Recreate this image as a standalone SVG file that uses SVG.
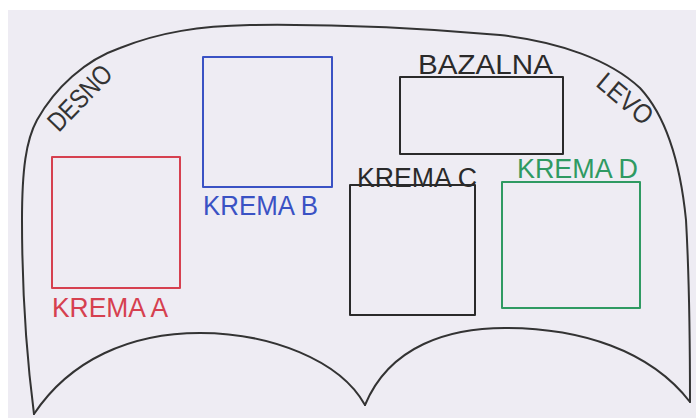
<svg xmlns="http://www.w3.org/2000/svg" width="696" height="418" viewBox="0 0 696 418">
<style>
.lbl{font-family:"Liberation Sans",Arial,sans-serif;font-size:27px;lengthAdjust:spacingAndGlyphs}
.box{fill:none;stroke-width:2;stroke-linejoin:round}
.ink{fill:none;stroke:#333;stroke-width:2;stroke-linecap:round;stroke-linejoin:round}
</style>
<rect width="696" height="418" fill="#ffffff"/>
<rect x="8" y="10" width="688" height="408" fill="#eeecf3"/>
<g id="outline">
<path class="ink" d="M34,414 C27,360 22,300 22,220 C22,170 26,140 37,120 C55,88 85,60 120,48 C160,32 200,26 250,25 C330,24 420,28 500,35 C560,42 610,60 640,88 C665,115 680,160 686,220 C690,290 690,350 690,402"/>
<path class="ink" d="M34,414 C70,360 130,333 200,333 C270,333 340,360 365,405"/>
<path class="ink" d="M365,405 C390,345 450,328 505,328 C580,328 650,350 690,402"/>
</g>
<g id="desno">
<text class="lbl" font-size="24" fill="#333" text-anchor="middle" transform="translate(80,98) rotate(-46)" x="0" y="9" textLength="80" lengthAdjust="spacingAndGlyphs">DESNO</text>
</g>
<g id="levo">
<text class="lbl" font-size="24" fill="#333" text-anchor="middle" transform="translate(625,99) rotate(40)" x="0" y="9" textLength="64" lengthAdjust="spacingAndGlyphs">LEVO</text>
</g>
<g id="krema-a">
<rect class="box" x="52" y="157" width="128" height="131" stroke="#d6404f"/>
<text class="lbl" x="52" y="317" fill="#d6404f" textLength="116" lengthAdjust="spacingAndGlyphs">KREMA A</text>
</g>
<g id="krema-b">
<rect class="box" x="203" y="57" width="129" height="130" stroke="#3a52c4"/>
<text class="lbl" x="203" y="215" fill="#3a52c4" textLength="115" lengthAdjust="spacingAndGlyphs">KREMA B</text>
</g>
<g id="bazalna">
<rect class="box" x="400" y="77" width="163" height="77" stroke="#2a2a2a"/>
<text class="lbl" x="418" y="74" fill="#2a2a2a" textLength="135" lengthAdjust="spacingAndGlyphs">BAZALNA</text>
</g>
<g id="krema-c">
<rect class="box" x="350" y="185" width="125" height="130" stroke="#2a2a2a"/>
<text class="lbl" x="357" y="187" fill="#2a2a2a" textLength="120" lengthAdjust="spacingAndGlyphs">KREMA C</text>
</g>
<g id="krema-d">
<rect class="box" x="502" y="182" width="138" height="126" stroke="#2f9a62"/>
<text class="lbl" x="517" y="178" fill="#2f9a62" textLength="121" lengthAdjust="spacingAndGlyphs">KREMA D</text>
</g>
</svg>
